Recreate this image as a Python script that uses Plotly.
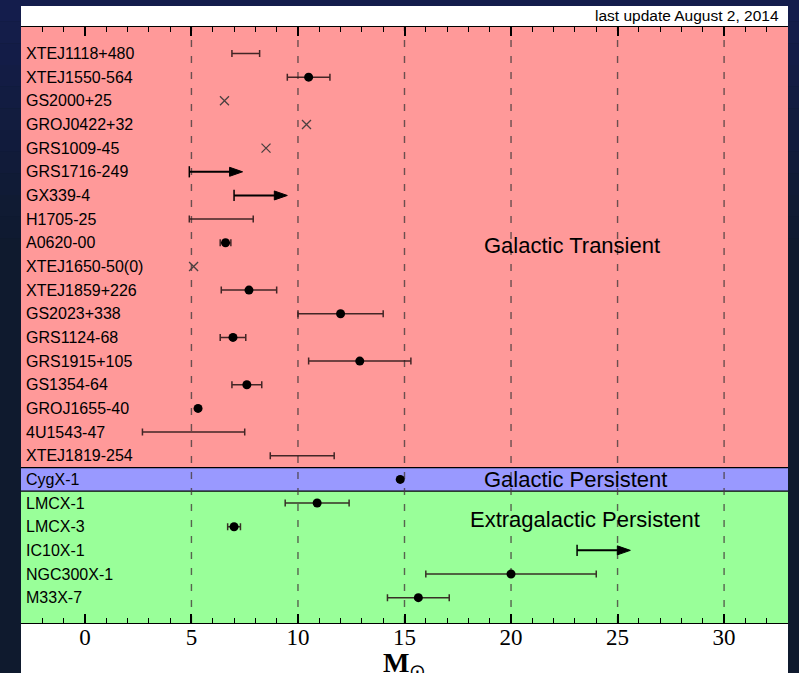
import plotly.graph_objects as go

# ---- data -------------------------------------------------------------
sources = [
    "XTEJ1118+480", "XTEJ1550-564", "GS2000+25", "GROJ0422+32", "GRS1009-45",
    "GRS1716-249", "GX339-4", "H1705-25", "A0620-00", "XTEJ1650-50(0)",
    "XTEJ1859+226", "GS2023+338", "GRS1124-68", "GRS1915+105", "GS1354-64",
    "GROJ1655-40", "4U1543-47", "XTEJ1819-254", "CygX-1", "LMCX-1",
    "LMCX-3", "IC10X-1", "NGC300X-1", "M33X-7",
]

# dynamical masses with symmetric uncertainties (solar masses)
dot_names = ["XTEJ1550-564", "A0620-00", "XTEJ1859+226", "GS2023+338", "GRS1124-68",
             "GRS1915+105", "GS1354-64", "GROJ1655-40", "CygX-1", "LMCX-1",
             "LMCX-3", "NGC300X-1", "M33X-7"]
dot_mass = [10.5, 6.6, 7.7, 12.0, 6.95, 12.9, 7.6, 5.31, 14.8, 10.9, 7.0, 20.0, 15.65]
dot_err = [1.0, 0.25, 1.3, 2.0, 0.6, 2.4, 0.7, 0.07, 0.1, 1.5, 0.3, 4.0, 1.45]

# mass ranges without a best estimate
range_names = ["XTEJ1118+480", "H1705-25", "4U1543-47", "XTEJ1819-254"]
range_lo = [6.9, 4.9, 2.7, 8.7]
range_hi = [8.2, 7.9, 7.5, 11.7]

# single rough estimates
est_names = ["GS2000+25", "GROJ0422+32", "GRS1009-45", "XTEJ1650-50(0)"]
est_mass = [6.55, 10.4, 8.5, 5.1]

# lower limits
limit_names = ["GRS1716-249", "GX339-4", "IC10X-1"]
limit_mass = [4.9, 7.0, 23.1]

# population groups: (label, first source, last source, colour)
groups = [
    ("Galactic Transient", "XTEJ1118+480", "XTEJ1819-254", "#ff9999"),
    ("Galactic Persistent", "CygX-1", "CygX-1", "#9999ff"),
    ("Extragalactic Persistent", "LMCX-1", "M33X-7", "#99ff99"),
]

major_ticks = [0, 5, 10, 15, 20, 25, 30]
dashed_at = [5, 10, 15, 20, 25, 30]

# ---- styling constants -----------------------------------------------
W, H = 799, 673
ML, MR, MT, MB = 21, 11, 27, 50
PH = H - MT - MB
PW = W - ML - MR
ARROW_LEN = 2.5          # length of lower-limit arrows, in M_sun
HEAD_PX = 13             # arrow head length in pixels
SANS = "Liberation Sans, Arial, sans-serif"
SERIF = "Liberation Serif, Times New Roman, serif"

row = {name: i for i, name in enumerate(sources)}
n = len(sources)
y_top, y_bot = -1.12, n - 1 + 1.07

fig = go.Figure()

# ---- background: navy page, white panel ------------------------------
shapes = []
top_rgb, bot_rgb = (20, 29, 76), (15, 26, 46)
n_strip = 12
span_px = 260
for k in range(n_strip):
    t = k / (n_strip - 1)
    c = tuple(round(a + (b - a) * t) for a, b in zip(top_rgb, bot_rgb))
    py0 = k * span_px / n_strip
    py1 = (k + 1) * span_px / n_strip if k < n_strip - 1 else H + 10
    shapes.append(dict(
        type="rect", xref="paper", yref="paper", layer="below",
        x0=-ML / PW - 0.01, x1=1 + MR / PW + 0.01,
        y0=1 + (MT - py1) / PH, y1=1 + (MT - py0 + (1 if k == 0 else 0)) / PH,
        fillcolor="rgb(%d,%d,%d)" % c, line=dict(width=0)))
shapes.append(dict(type="rect", xref="paper", yref="paper", layer="below",
                   x0=0, x1=1, y0=-0.2, y1=1 + 21 / PH,
                   fillcolor="white", line=dict(width=0)))

# population bands; the outer bands run to the plot edges
for gi, (label, first, last, colour) in enumerate(groups):
    b0 = y_top if gi == 0 else row[first] - 0.5
    b1 = y_bot if gi == len(groups) - 1 else row[last] + 0.5
    shapes.append(dict(type="rect", xref="paper", yref="y", layer="below",
                       x0=0, x1=1, y0=b0, y1=b1,
                       fillcolor=colour, line=dict(width=0)))
for label, first, last, colour in groups[1:]:
    shapes.append(dict(type="line", xref="paper", yref="y", layer="below",
                       x0=0, x1=1, y0=row[first] - 0.5, y1=row[first] - 0.5,
                       line=dict(color="black", width=1.2)))

# dashed reference lines
for v in dashed_at:
    shapes.append(dict(type="line", xref="x", yref="paper", layer="below",
                       x0=v, x1=v, y0=0, y1=1,
                       line=dict(color="rgba(70,60,60,0.8)", width=1.4, dash="7px,9px")))

# ---- marks ------------------------------------------------------------
bar_style = dict(type="data", color="rgba(45,25,25,0.9)", thickness=1.5, width=3.5)

fig.add_trace(go.Scatter(
    x=[(lo + hi) / 2 for lo, hi in zip(range_lo, range_hi)],
    y=[row[s] for s in range_names],
    mode="markers", marker=dict(size=1, color="rgba(0,0,0,0)"),
    error_x=dict(array=[(hi - lo) / 2 for lo, hi in zip(range_lo, range_hi)], **bar_style),
    hoverinfo="skip", showlegend=False))

fig.add_trace(go.Scatter(
    x=dot_mass, y=[row[s] for s in dot_names],
    mode="markers", marker=dict(size=9, color="black"),
    error_x=dict(array=dot_err, **bar_style),
    showlegend=False))

fig.add_trace(go.Scatter(
    x=est_mass, y=[row[s] for s in est_names],
    mode="markers",
    marker=dict(symbol="x-thin-open", size=9, color="#4a4040",
                line=dict(color="#4a4040", width=1.3)),
    showlegend=False))

# lower-limit arrows: shaft, start tick and triangular head
shaft_x, shaft_y = [], []
for name, m in zip(limit_names, limit_mass):
    shaft_x += [m, m + ARROW_LEN - 0.3, None]
    shaft_y += [row[name], row[name], None]
fig.add_trace(go.Scatter(x=shaft_x, y=shaft_y, mode="lines",
                         line=dict(color="black", width=2), showlegend=False,
                         hoverinfo="skip"))
fig.add_trace(go.Scatter(
    x=limit_mass, y=[row[s] for s in limit_names], mode="markers",
    marker=dict(symbol="line-ns-open", size=8, color="black",
                line=dict(color="black", width=1.5)),
    showlegend=False, hoverinfo="skip"))
for name, m in zip(limit_names, limit_mass):
    shapes.append(dict(type="path", xref="x", yref="y", layer="above",
                       xsizemode="pixel", ysizemode="pixel",
                       xanchor=m + ARROW_LEN, yanchor=row[name],
                       path="M0,0 L-%d,-4.5 L-%d,4.5 Z" % (HEAD_PX, HEAD_PX),
                       fillcolor="black", line=dict(color="black", width=1)))

# ---- text -------------------------------------------------------------
annotations = []
for name in sources:
    annotations.append(dict(xref="paper", yref="y", x=0, y=row[name], xshift=3,
                            xanchor="left", yanchor="middle", text=name,
                            showarrow=False, font=dict(family=SANS, size=16, color="black")))

group_label_pos = {"Galactic Transient": (22.86, 8.1),
                   "Galactic Persistent": (23.04, 18.0),
                   "Extragalactic Persistent": (23.47, 19.7)}
for label, *_ in groups:
    gx, gy = group_label_pos[label]
    annotations.append(dict(xref="x", yref="y", x=gx, y=gy, text=label,
                            showarrow=False, xanchor="center", yanchor="middle",
                            font=dict(family=SANS, size=22, color="black")))

annotations.append(dict(xref="paper", yref="paper", x=1, xshift=-7,
                        y=1 + 11 / PH, xanchor="right", yanchor="middle",
                        text="last update August 2, 2014", showarrow=False,
                        font=dict(family=SANS, size=15.5, color="black")))

annotations.append(dict(xref="paper", yref="paper", x=0.5, y=-22 / PH,
                        xanchor="center", yanchor="top",
                        text="<b>M</b><sub>⊙</sub>", showarrow=False,
                        font=dict(family=SERIF, size=28, color="black")))

# ---- layout -----------------------------------------------------------
fig.update_layout(
    width=W, height=H,
    margin=dict(l=ML, r=MR, t=MT, b=MB, pad=0),
    paper_bgcolor="rgb(15,26,46)", plot_bgcolor="white",
    shapes=shapes, annotations=annotations,
    showlegend=False,
    xaxis=dict(range=[-3, 33], tickvals=major_ticks, ticks="inside",
               ticklen=9, tickwidth=2, tickcolor="black",
               mirror="allticks", showline=True, linecolor="black", linewidth=1,
               showgrid=False, zeroline=False, ticklabelstandoff=-7,
               minor=dict(dtick=1, ticks="inside", ticklen=5, tickwidth=1.3,
                          tickcolor="black", showgrid=False),
               tickfont=dict(family=SERIF, size=23, color="black")),
    yaxis=dict(range=[y_bot, y_top], showticklabels=False, ticks="",
               showgrid=False, zeroline=False, showline=False),
)

fig.write_html("out.html")
